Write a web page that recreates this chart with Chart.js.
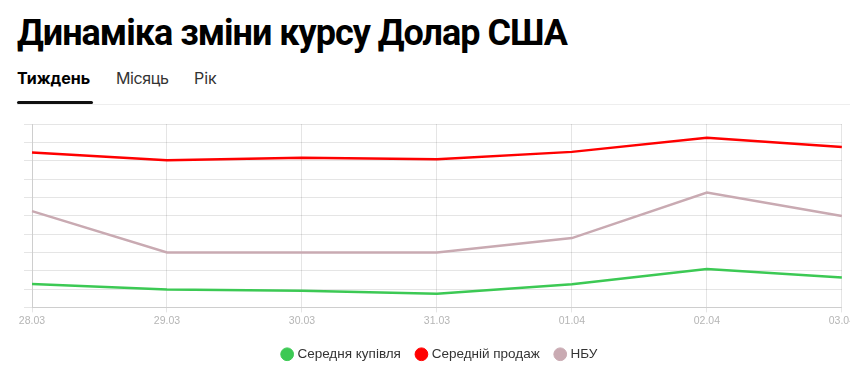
<!DOCTYPE html>
<html>
<head>
<meta charset="utf-8">
<script src="https://cdn.jsdelivr.net/npm/chart.js@4"></script>
<style>
    html, body { margin: 0; padding: 0; background: #fff; overflow: hidden; width: 850px; height: 385px; }
    .title { position: absolute; left: 17px; top: 12px; margin: 0; font-family: Roboto, sans-serif; font-weight: 700; font-size: 36px; letter-spacing: -1px; color: #000; }
    .tabs { position: absolute; left: 17px; top: 66px; right: 0; height: 38px; border-bottom: 1px solid #eee; font-family: Inter, sans-serif; font-size: 16px; }
    .tab { position: absolute; top: 2px; color: #333; }
    .tab.active { font-weight: 700; color: #000; }
    .tab.active::after { content: ""; position: absolute; left: 0; right: -3px; top: 33px; height: 3px; border-radius: 2px; background: #111; }
    #wrap { position: absolute; left: 0; top: 110px; width: 857px; height: 261px; }
</style>
</head>
<body>
<h1 class="title">Динаміка зміни курсу Долар США</h1>
<div class="tabs">
    <span class="tab active" style="left:0">Тиждень</span>
    <span class="tab" style="left:99px; letter-spacing:-0.4px">Місяць</span>
    <span class="tab" style="left:177px">Рік</span>
</div>
<div id="wrap"><canvas id="rate-chart"></canvas></div>
<script>
// дати та курси
const dates = ['28.03', '29.03', '30.03', '31.03', '01.04', '02.04', '03.04'];
const avgBuy = [38.928, 38.897, 38.891, 38.875, 38.926, 39.010, 38.963];
const avgSell = [39.645, 39.603, 39.616, 39.608, 39.648, 39.725, 39.674];
const nbu = [39.325, 39.099, 39.099, 39.099, 39.178, 39.426, 39.298];

const ctx = document.getElementById('rate-chart').getContext('2d');
const chart = new Chart(ctx, {
    type: 'line',
    data: {
        labels: dates,
        datasets: [
            { label: 'Середня купівля', data: avgBuy, borderColor: '#3cc954', backgroundColor: '#3cc954' },
            { label: 'Середній продаж', data: avgSell, borderColor: '#ff0000', backgroundColor: '#ff0000' },
            { label: 'НБУ', data: nbu, borderColor: '#c9aab2', backgroundColor: '#c9aab2' }
        ]
    },
    options: {
        responsive: true,
        maintainAspectRatio: false,
        animation: false,
        layout: { padding: { left: 24, top: 14, right: 0, bottom: 0 } },
        elements: {
            line: { borderWidth: 2.5, tension: 0 },
            point: { radius: 0, hoverRadius: 0 }
        },
        scales: {
            x: {
                grid: { color: 'rgba(0,0,0,0.1)', tickLength: 5 },
                ticks: { color: '#b5b5b5', font: { size: 10.5 }, padding: 2, maxRotation: 0 },
                afterFit: (scale) => { scale.height += 1.5; }
            },
            y: {
                min: 38.8,
                max: 39.8,
                grid: { color: 'rgba(0,0,0,0.1)', tickLength: 8 },
                ticks: { display: false, stepSize: 0.1 }
            }
        },
        plugins: {
            legend: {
                position: 'bottom',
                labels: {
                    usePointStyle: true, pointStyle: 'circle', boxWidth: 7, boxHeight: 9,
                    color: '#333', font: { size: 13.5 }, padding: 17
                }
            },
            tooltip: { enabled: false }
        }
    }
});
</script>
</body>
</html>
